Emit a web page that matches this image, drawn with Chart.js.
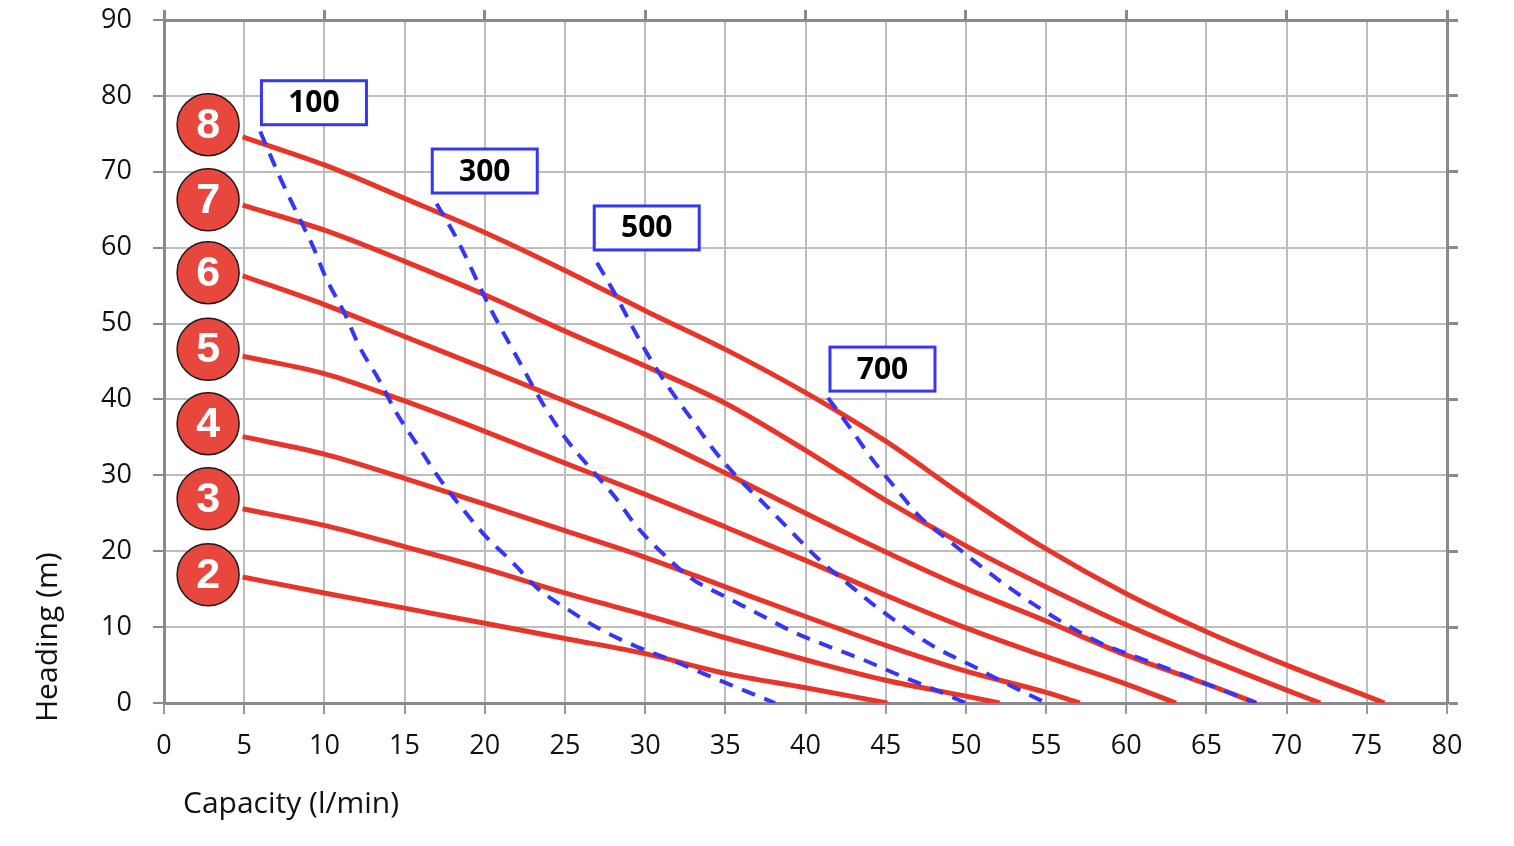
<!DOCTYPE html>
<html>
<head>
<meta charset="utf-8">
<title>Pump performance curves</title>
<script src="https://cdn.jsdelivr.net/npm/chart.js@4.4.1/dist/chart.umd.min.js"></script>
<style>
  html, body { margin: 0; padding: 0; background: #fff; }
  #wrap { width: 1514px; height: 846px; position: relative; }
</style>
</head>
<body>
<div id="wrap"><canvas id="chart"></canvas></div>
<script>
// pump curves per setting: [capacity (l/min), heading (m)]
const pump8 = [[4.9, 74.6], [10, 70.9], [15, 66.5], [20, 62.0], [25, 57.0], [30, 51.7], [35, 46.6], [40, 40.9], [45, 34.5], [50, 27.1], [55, 20.3], [60, 14.4], [65, 9.4], [70, 5.0], [76.1, 0]];
const pump7 = [[4.9, 65.6], [10, 62.3], [15, 58.2], [20, 53.8], [25, 49.0], [30, 44.4], [35, 39.5], [40, 33.3], [45, 26.7], [50, 20.7], [55, 15.3], [60, 10.3], [65, 5.9], [70, 1.7], [72.1, 0]];
const pump6 = [[4.9, 56.3], [10, 52.5], [15, 48.3], [20, 44.1], [25, 39.8], [30, 35.4], [35, 30.3], [40, 25.0], [45, 19.9], [50, 15.1], [55, 10.8], [60, 6.3], [65, 2.5], [68.1, 0]];
const pump5 = [[4.9, 45.7], [10, 43.4], [15, 39.8], [20, 35.8], [25, 31.6], [30, 27.5], [35, 23.2], [40, 18.8], [45, 14.2], [50, 9.9], [55, 6.1], [60, 2.5], [63.1, 0]];
const pump4 = [[4.9, 35.1], [10, 32.8], [15, 29.6], [20, 26.2], [25, 22.7], [30, 19.2], [35, 15.3], [40, 11.4], [45, 7.6], [50, 4.2], [55, 1.4], [57.1, 0]];
const pump3 = [[4.9, 25.6], [10, 23.4], [15, 20.6], [20, 17.7], [25, 14.5], [30, 11.6], [35, 8.6], [40, 5.7], [45, 3.0], [50, 0.9], [52.1, 0]];
const pump2 = [[4.9, 16.6], [10, 14.5], [15, 12.5], [20, 10.5], [25, 8.5], [30, 6.5], [35, 3.9], [40, 2.0], [45.1, 0]];

// dashed iso lines (100 / 300 / 500 / 700)
const iso100 = [[6.0, 75.3], [7.2, 69.4], [8.3, 64.5], [9.3, 60.1], [10.1, 56.0], [11.2, 51.6], [12.2, 46.9], [13.4, 42.6], [14.5, 38.2], [15.8, 34.0], [17.1, 29.8], [18.5, 25.9], [20.0, 22.1], [21.7, 18.6], [23.3, 15.1], [25.2, 12.3], [27.3, 9.6], [29.5, 7.4], [31.6, 5.7], [33.6, 3.9], [35.9, 1.9], [38.1, 0]];
const iso300 = [[17.0, 65.8], [18.3, 61.0], [20.3, 52.2], [22.1, 45.2], [23.8, 38.8], [25.1, 34.7], [26.6, 30.9], [28.1, 27.2], [29.5, 23.2], [31.1, 19.7], [32.9, 16.4], [35.0, 14.0], [37.2, 11.6], [39.2, 9.4], [41.5, 7.4], [43.6, 5.7], [45.8, 3.7], [47.9, 1.9], [50.0, 0]];
const iso500 = [[27.0, 58.0], [28.1, 54.0], [29.3, 49.2], [30.0, 46.5], [31.3, 42.1], [33.0, 37.1], [34.3, 33.3], [35.9, 29.4], [37.4, 26.3], [39.2, 22.4], [40.9, 18.8], [42.6, 15.8], [44.4, 12.7], [46.3, 9.8], [48.2, 7.2], [50.3, 5.0], [52.3, 2.8], [55.0, 0]];
const iso700 = [[41.4, 40.2], [42.8, 36.2], [44.2, 32.0], [45.7, 28.1], [47.1, 24.6], [49.0, 21.3], [50.7, 18.4], [52.5, 15.5], [54.6, 12.5], [56.7, 9.8], [58.4, 7.9], [61.1, 5.7], [63.1, 4.1], [65.4, 2.2], [68.1, 0]];

// red numbered badges at the start of each pump curve
const badgeLabels = ['8', '7', '6', '5', '4', '3', '2'];
const badgeY = [76.2, 66.3, 56.7, 46.6, 36.8, 26.9, 16.9];
const badgeX = 2.75;

// blue boxed labels of the dashed lines
const boxLabels = ['100', '300', '500', '700'];
const boxX = [9.35, 20.0, 30.1, 44.8];
const boxY = [79.1, 70.1, 62.6, 44.0];

const RED = '#e8352a';
const BLUE = '#3636f4';
const FRAME = '#8a8a8a';
const GRID = '#bdbdbd';

Chart.defaults.font.family = '"Open Sans", sans-serif';
Chart.defaults.color = '#111';

const toXY = arr => arr.map(p => ({ x: p[0], y: p[1] }));

const pumpSets = [pump8, pump7, pump6, pump5, pump4, pump3, pump2].map((arr, i) => ({
    label: 'Pump ' + badgeLabels[i],
    data: toXY(arr),
    showLine: true,
    borderColor: RED,
    borderWidth: 5,
    pointRadius: 0,
    cubicInterpolationMode: 'monotone',
    order: 3
}));

const isoSets = [iso100, iso300, iso500, iso700].map((arr, i) => ({
    label: boxLabels[i],
    data: toXY(arr),
    showLine: true,
    borderColor: BLUE,
    borderWidth: 4,
    borderDash: [14, 10],
    pointRadius: 0,
    cubicInterpolationMode: 'monotone',
    order: 2
}));

const badgeSet = {
    label: 'badges',
    data: badgeY.map(v => ({ x: badgeX, y: v })),
    showLine: false,
    pointRadius: 31,
    pointBackgroundColor: '#e8473d',
    pointBorderColor: '#1a1a1a',
    pointBorderWidth: 1.5,
    order: 0
};

const overlay = {
    id: 'overlay',
    afterDatasetsDraw(chart) {
        const { ctx, scales: { x, y } } = chart;
        ctx.save();

        // numbers in badges
        const meta = chart.getDatasetMeta(0);
        ctx.fillStyle = '#fff';
        ctx.font = 'bold 43px "Liberation Sans", Arial, sans-serif';
        ctx.textAlign = 'center';
        ctx.textBaseline = 'middle';
        meta.data.forEach((pt, i) => ctx.fillText(badgeLabels[i], pt.x, pt.y + 1));

        // boxed labels
        const w = 105, h = 44;
        boxLabels.forEach((txt, i) => {
            const cx = x.getPixelForValue(boxX[i]);
            const cy = y.getPixelForValue(boxY[i]);
            ctx.fillStyle = '#fff';
            ctx.fillRect(cx - w / 2, cy - h / 2, w, h);
            ctx.strokeStyle = BLUE;
            ctx.lineWidth = 3;
            ctx.strokeRect(cx - w / 2, cy - h / 2, w, h);
            ctx.fillStyle = '#000';
            ctx.font = 'bold 30px "Open Sans", sans-serif';
            ctx.fillText(txt, cx, cy + 1);
        });

        // axis titles
        ctx.fillStyle = '#111';
        ctx.font = '30px "Open Sans", sans-serif';
        ctx.textAlign = 'left';
        ctx.textBaseline = 'alphabetic';
        ctx.fillText('Capacity (l/min)', x.left + 19, 813);

        ctx.translate(57, y.bottom + 19);
        ctx.rotate(-Math.PI / 2);
        ctx.fillText('Heading (m)', 0, 0);
        ctx.restore();
    }
};

new Chart(document.getElementById('chart'), {
    type: 'scatter',
    data: { datasets: [badgeSet, ...isoSets, ...pumpSets] },
    options: {
        responsive: true,
        maintainAspectRatio: false,
        animation: false,
        layout: { padding: 0, autoPadding: false },
        plugins: { legend: { display: false }, tooltip: { enabled: false } },
        scales: {
            x: {
                type: 'linear', position: 'bottom', min: 0, max: 80,
                ticks: { stepSize: 5, padding: 16, color: '#111', font: { size: 27 } },
                grid: { color: GRID, lineWidth: 2, tickLength: 11, tickColor: '#999', tickWidth: 2 },
                border: { color: FRAME, width: 3 },
                afterFit(s) { s.height = 143; }
            },
            xTop: {
                type: 'linear', position: 'top', min: 0, max: 80,
                ticks: { stepSize: 10, display: false },
                grid: { drawOnChartArea: false, tickLength: 10, tickColor: FRAME, tickWidth: 3 },
                border: { color: FRAME, width: 3 },
                afterFit(s) { s.height = 20; }
            },
            y: {
                type: 'linear', position: 'left', min: 0, max: 90,
                ticks: { stepSize: 10, padding: 21, color: '#111', font: { size: 27 } },
                grid: { color: GRID, lineWidth: 2, tickLength: 11, tickColor: FRAME, tickWidth: 2 },
                border: { color: FRAME, width: 3 },
                afterFit(s) {
                    s.width = 164;
                    s.paddingTop = 0;
                    s.paddingBottom = 0;
                }
            },
            yRight: {
                type: 'linear', position: 'right', min: 0, max: 90,
                ticks: { stepSize: 10, display: false },
                grid: { drawOnChartArea: false, tickLength: 11, tickColor: FRAME, tickWidth: 3 },
                border: { color: FRAME, width: 3 },
                afterFit(s) { s.width = 67; }
            }
        }
    },
    plugins: [overlay]
});
</script>
</body>
</html>
